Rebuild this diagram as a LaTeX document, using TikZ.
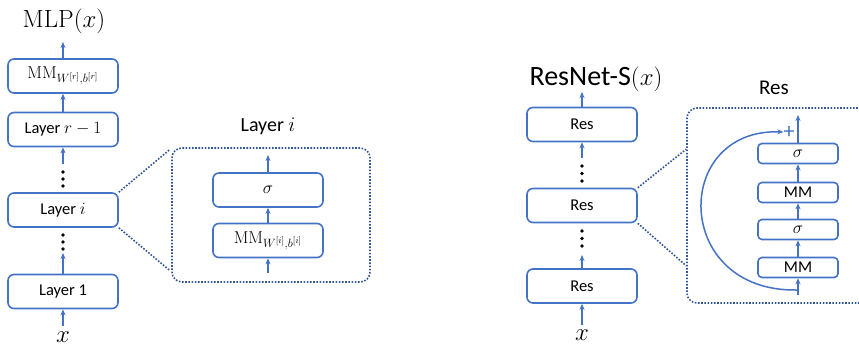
\documentclass[tikz,border=0pt]{standalone}
\usepackage[no-math]{fontspec}
\setmainfont{Carlito}
\usetikzlibrary{arrows.meta,calc}
\definecolor{boxblue}{HTML}{4472C4}
\definecolor{dotblue}{HTML}{2F5597}
\begin{document}
\begin{tikzpicture}[x=1pt,y=-1pt,
  blk/.style={draw=boxblue, line width=1.6pt, rounded corners=6pt, minimum width=110pt, minimum height=34pt, inner sep=0pt, font=\fontsize{16.5}{19}\selectfont},
  sblk/.style={draw=boxblue, line width=1.6pt, rounded corners=4pt, minimum width=80pt, minimum height=20pt, inner sep=0pt, font=\fontsize{16.5}{19}\selectfont},
  arr/.style={draw=boxblue, line width=1.5pt, -{Stealth[length=6pt,width=5pt]}},
  zoombox/.style={draw=dotblue, line width=1.6pt, dash pattern=on 1.6pt off 1.6pt, rounded corners=10pt, inner sep=0pt},
  zoomline/.style={draw=dotblue, line width=1.6pt, dash pattern=on 1.6pt off 1.6pt},
  vdot/.style={fill=black},
  mmlabel/.style={font=\fontsize{17.5}{20}\selectfont},
]
\useasboundingbox (0,0) rectangle (859,346);
\clip (0,0) rectangle (859,346);

% ---------------- MLP column ----------------
\node[font=\fontsize{28}{32}\selectfont] (mlp) at (64,21) {$\mathrm{MLP}(x)$};
\node[blk, mmlabel] (mm) at (63,76) {$\mathrm{MM}_{W^{[r]},b^{[r]}}$};
\node[blk] (lr) at (63,129.5) {Layer $r-1$};
\node[blk] (li) at (63,210) {Layer $i$};
\node[blk] (l1) at (63,291.5) {Layer 1};
\node[font=\fontsize{24}{24}\selectfont, inner sep=0pt] (xl) at (63,337) {$x$};
\coordinate (mlpin) at (63,42);
\coordinate (d1) at (63,164);
\coordinate (d2) at (63,253);
\draw[arr] (mm.north) -- (mlpin);
\draw[arr] (lr.north) -- (mm.south);
\draw[arr] (d1) -- (lr.south);
\draw[arr] (l1.north) -- (d2);
\draw[arr, shorten <=5pt] (xl.north) -- (l1.south);
\foreach \y in {172,179,186} \fill[vdot] (63,\y) circle (1.8);
\foreach \y in {235,242,249} \fill[vdot] (63,\y) circle (1.8);

% ---------------- Layer i zoom ----------------
\node[zoombox, minimum width=198pt, minimum height=134pt] (lbox) at (271,215) {};
\node[font=\fontsize{20}{24}\selectfont] (ltitle) at (268,126) {Layer $i$};
\node[blk] (sg) at (268,190) {$\sigma$};
\node[blk, mmlabel] (mmi) at (268,240.5) {$\mathrm{MM}_{W^{[i]},b^{[i]}}$};
\coordinate (sgout) at (268,155);
\coordinate (mmiin) at (268,273);
\draw[arr] (sg.north) -- (sgout);
\draw[arr] (mmi.north) -- (sg.south);
\draw[arr] (mmiin) -- (mmi.south);
\draw[zoomline] (li.north east) -- ($(lbox.north west)+(-1,2)$);
\draw[zoomline] (li.south east) -- ($(lbox.south west)+(-1,-12)$);

% ---------------- ResNet column ----------------
\node[font=\fontsize{28}{32}\selectfont] (rt) at (596,79) {ResNet-S$(x)$};
\node[blk] (r3) at (582,124.5) {Res};
\node[blk] (r2) at (582,205.5) {Res};
\node[blk] (r1) at (582,286) {Res};
\node[font=\fontsize{24}{24}\selectfont, inner sep=0pt] (rx) at (582,335) {$x$};
\coordinate (rout) at (582,92);
\coordinate (rd1) at (582,158);
\coordinate (rd2) at (582,255);
\draw[arr] (r3.north) -- (rout);
\draw[arr] (rd1) -- (r3.south);
\draw[arr] (r1.north) -- (rd2);
\draw[arr, shorten <=4pt] (rx.north) -- (r1.south);
\foreach \y in {166,173.5,181} \fill[vdot] (582,\y) circle (1.8);
\foreach \y in {231,238.5,246} \fill[vdot] (582,\y) circle (1.8);

% ---------------- Res zoom ----------------
\node[zoombox, minimum width=200pt, minimum height=195pt] (rbox) at (787,205.5) {};
\node[font=\fontsize{21}{24}\selectfont] (rest) at (774,88) {Res};
\node[sblk] (s2) at (798,153.5) {$\sigma$};
\node[sblk] (m2) at (798,192.5) {MM};
\node[sblk] (s1) at (798,229.5) {$\sigma$};
\node[sblk] (m1) at (798,267.5) {MM};
\node[text=boxblue, font=\fontsize{22}{22}\selectfont, inner sep=0pt] (plus) at (789,132) {+};
\coordinate (resout) at (798,115);
\coordinate (resin) at (798,295);
\coordinate (skip) at (797,290);
\draw[arr] (s2.north) -- (resout);
\draw[arr] (m2.north) -- (s2.south);
\draw[arr] (s1.north) -- (m2.south);
\draw[arr] (m1.north) -- (s1.south);
\draw[arr] (resin) -- (m1.south);
\draw[arr] (skip) .. controls (672,292) and (672,128) .. (plus.west);
\draw[zoomline] (r2.north east) -- ($(rbox.north west)+(0,42)$);
\draw[zoomline] (r2.south east) -- ($(rbox.south west)+(0,-38)$);
\end{tikzpicture}
\end{document}
